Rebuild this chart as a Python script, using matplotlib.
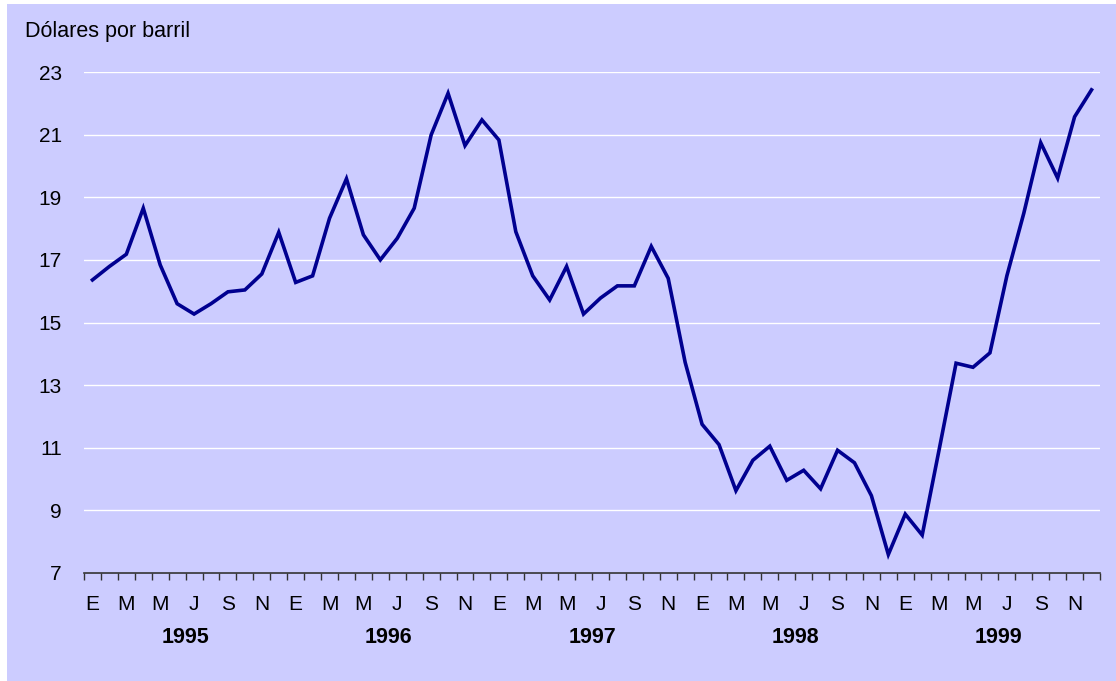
import matplotlib.pyplot as plt
from matplotlib.patches import Rectangle

plt.rcParams['font.family'] = ['Liberation Sans', 'DejaVu Sans']

# monthly oil price, Jan 1995 - Dec 1999 (dollars per barrel)
years = ["1995", "1996", "1997", "1998", "1999"]
month_labels = ["E", "M", "M", "J", "S", "N"]
prices = [
    16.36, 16.79, 17.18, 18.65, 16.84, 15.60, 15.27, 15.60, 15.98, 16.04, 16.55, 17.88,
    16.28, 16.49, 18.33, 19.59, 17.80, 17.00, 17.69, 18.65, 20.99, 22.32, 20.65, 21.47,
    20.83, 17.90, 16.49, 15.72, 16.79, 15.27, 15.78, 16.17, 16.17, 17.43, 16.41, 13.73,
    11.75, 11.10, 9.63, 10.60, 11.05, 9.96, 10.28, 9.69, 10.92, 10.52, 9.47, 7.59,
    8.88, 8.21, 10.94, 13.70, 13.57, 14.03, 16.49, 18.49, 20.74, 19.61, 21.57, 22.43,
]
y_ticks = [7, 9, 11, 13, 15, 17, 19, 21, 23]

bg = '#CCCCFF'
line_color = '#000090'

fig = plt.figure(figsize=(11.16, 6.81), dpi=100)
fig.patch.set_facecolor('white')
fig.patches.append(Rectangle((7 / 1116, 0), 1 - 7 / 1116, 1 - 4 / 681,
                             transform=fig.transFigure, facecolor=bg,
                             edgecolor='none', zorder=-10))

ax = fig.add_axes([84 / 1116, 108 / 681, 1016 / 1116, 501 / 681])
ax.set_facecolor(bg)

n = len(prices)
ax.plot(range(n), prices, color=line_color, linewidth=2.6, zorder=3,
        solid_joinstyle='miter')

ax.set_xlim(-0.5, n - 0.5)
ax.set_ylim(7, 23)
ax.set_yticks(y_ticks)
ax.yaxis.grid(True, color='white', linewidth=1.0)
ax.set_axisbelow(True)
ax.tick_params(axis='y', length=0, pad=16, labelsize=15)

# ticks on month boundaries, labels every two months
ax.set_xticks([i - 0.5 for i in range(n + 1)])
ax.set_xticklabels([])
ax.tick_params(axis='x', direction='out', length=5, width=1, color='#333333')

for s in ['top', 'right', 'left']:
    ax.spines[s].set_visible(False)
ax.spines['bottom'].set_color('#333333')
ax.spines['bottom'].set_linewidth(1.2)

trans = ax.get_xaxis_transform()
for k, yr in enumerate(years):
    for j, lab in enumerate(month_labels):
        ax.text(12 * k + 2 * j, -0.062, lab, transform=trans, ha='center',
                va='center', fontsize=15)
    ax.text(12 * k + 5.5, -0.128, yr, transform=trans, ha='center',
            va='center', fontsize=15.5, fontweight='bold')

fig.text(25 / 1116, 1 - 32 / 681, "Dólares por barril", ha='left',
         va='center', fontsize=15.5)

fig.savefig('out.png', dpi=100, facecolor=fig.get_facecolor())
